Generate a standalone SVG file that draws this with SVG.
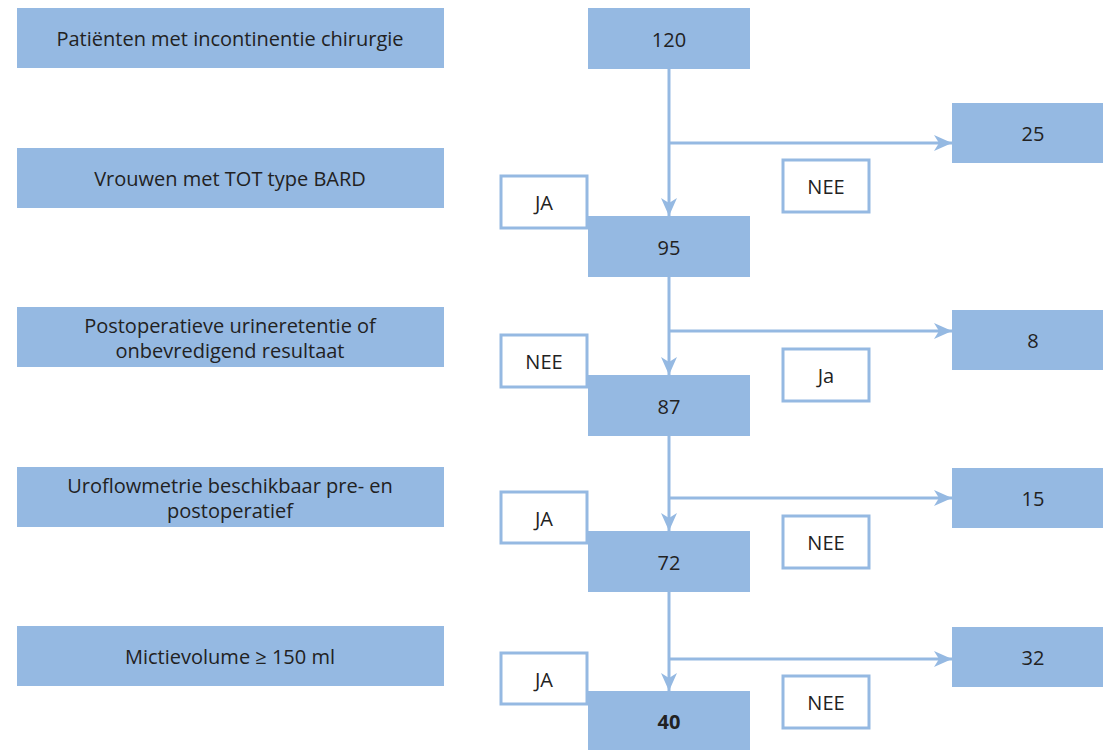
<svg xmlns="http://www.w3.org/2000/svg" width="1103" height="750" viewBox="0 0 1103 750">
<style>
.b{fill:#95b9e2}
.l{fill:#fff;stroke:#95b9e2;stroke-width:3}
.t{font-family:"Open Sans","Liberation Sans",sans-serif;font-size:20px;fill:#222;text-anchor:middle;dominant-baseline:central}
.c{stroke:#95b9e2;stroke-width:3;fill:none}
</style>
<defs>
<marker id="a" markerUnits="userSpaceOnUse" markerWidth="20" markerHeight="18" viewBox="0 0 20 18" refX="18" refY="9" orient="auto">
<path d="M0,1 L18,9 L0,17 L5,9 Z" fill="#95b9e2"/>
</marker>
</defs>
<rect width="1103" height="750" fill="#fff"/>
<g id="connectors">
<line class="c" x1="669" y1="69" x2="669" y2="216" marker-end="url(#a)"/>
<line class="c" x1="669" y1="143" x2="952" y2="143" marker-end="url(#a)"/>
<line class="c" x1="669" y1="277" x2="669" y2="375" marker-end="url(#a)"/>
<line class="c" x1="669" y1="331" x2="952" y2="331" marker-end="url(#a)"/>
<line class="c" x1="669" y1="436" x2="669" y2="531" marker-end="url(#a)"/>
<line class="c" x1="669" y1="498" x2="952" y2="498" marker-end="url(#a)"/>
<line class="c" x1="669" y1="592" x2="669" y2="691" marker-end="url(#a)"/>
<line class="c" x1="669" y1="659" x2="952" y2="659" marker-end="url(#a)"/>
</g>
<g id="crit1"><rect class="b" x="17" y="8" width="427" height="60"/><text class="t" x="230" y="38">Patiënten met incontinentie chirurgie</text></g>
<g id="crit2"><rect class="b" x="17" y="148" width="427" height="60"/><text class="t" x="230" y="178">Vrouwen met TOT type BARD</text></g>
<g id="crit3"><rect class="b" x="17" y="307" width="427" height="60"/><text class="t" x="230" y="325">Postoperatieve urineretentie of</text><text class="t" x="230" y="350">onbevredigend resultaat</text></g>
<g id="crit4"><rect class="b" x="17" y="467" width="427" height="60"/><text class="t" x="230" y="485">Uroflowmetrie beschikbaar pre- en</text><text class="t" x="230" y="510">postoperatief</text></g>
<g id="crit5"><rect class="b" x="17" y="626" width="427" height="60"/><text class="t" x="230" y="656">Mictievolume ≥ 150 ml</text></g>

<g id="lbl1"><rect class="l" x="501" y="176" width="86" height="52"/><text class="t" x="544" y="202">JA</text></g>
<g id="lbl2"><rect class="l" x="501" y="335" width="86" height="52"/><text class="t" x="544" y="361">NEE</text></g>
<g id="lbl3"><rect class="l" x="501" y="492" width="86" height="51"/><text class="t" x="544" y="518">JA</text></g>
<g id="lbl4"><rect class="l" x="501" y="653" width="86" height="51"/><text class="t" x="544" y="679">JA</text></g>
<g id="lbl5"><rect class="l" x="783" y="160" width="86" height="52"/><text class="t" x="826" y="186">NEE</text></g>
<g id="lbl6"><rect class="l" x="783" y="349" width="86" height="52"/><text class="t" x="826" y="375">Ja</text></g>
<g id="lbl7"><rect class="l" x="783" y="516" width="86" height="52"/><text class="t" x="826" y="542">NEE</text></g>
<g id="lbl8"><rect class="l" x="783" y="676" width="86" height="52"/><text class="t" x="826" y="702">NEE</text></g>

<g id="n120"><rect class="b" x="588" y="8" width="162" height="61"/><text class="t" x="669" y="39">120</text></g>
<g id="n95"><rect class="b" x="588" y="216" width="162" height="61"/><text class="t" x="669" y="247">95</text></g>
<g id="n87"><rect class="b" x="588" y="375" width="162" height="61"/><text class="t" x="669" y="406">87</text></g>
<g id="n72"><rect class="b" x="588" y="531" width="162" height="61"/><text class="t" x="669" y="562">72</text></g>
<g id="n40"><rect class="b" x="588" y="691" width="162" height="59"/><text class="t" x="669" y="721" font-weight="bold">40</text></g>

<g id="n25"><rect class="b" x="952" y="103" width="151" height="60"/><text class="t" x="1033" y="133">25</text></g>
<g id="n8"><rect class="b" x="952" y="310" width="151" height="60"/><text class="t" x="1033" y="340">8</text></g>
<g id="n15"><rect class="b" x="952" y="468" width="151" height="60"/><text class="t" x="1033" y="498">15</text></g>
<g id="n32"><rect class="b" x="952" y="627" width="151" height="60"/><text class="t" x="1033" y="657">32</text></g>
</svg>
